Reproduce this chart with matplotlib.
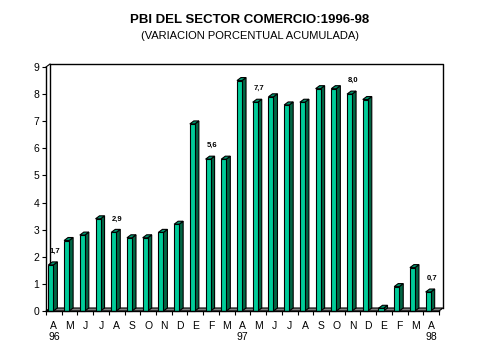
import matplotlib
matplotlib.use('Agg')
import matplotlib.pyplot as plt
from matplotlib.patches import Polygon

plt.rcParams['font.family'] = ['Liberation Sans', 'DejaVu Sans']

months = ['A', 'M', 'J', 'J', 'A', 'S', 'O', 'N', 'D', 'E', 'F', 'M',
          'A', 'M', 'J', 'J', 'A', 'S', 'O', 'N', 'D', 'E', 'F', 'M', 'A']
years = {0: '96', 12: '97', 24: '98'}
values = [1.7, 2.6, 2.8, 3.4, 2.9, 2.7, 2.7, 2.9, 3.2, 6.9, 5.6, 5.6,
          8.5, 7.7, 7.9, 7.6, 7.7, 8.2, 8.2, 8.0, 7.8, 0.1, 0.9, 1.6, 0.7]
labelled = {0: '1,7', 4: '2,9', 10: '5,6', 13: '7,7', 19: '8,0', 24: '0,7'}

W, H = 479, 359
fig = plt.figure(figsize=(W / 100, H / 100), dpi=100)
fig.patch.set_facecolor('white')

# front plane of the 3d box in pixels
left, right, bottom, top = 46, 439, 311, 67
ax = fig.add_axes([left / W, 1 - bottom / H, (right - left) / W, (bottom - top) / H])
n = len(values)
ax.set_xlim(-0.5, n - 0.5)
ax.set_ylim(0, 9)
for s in ax.spines.values():
    s.set_visible(False)
ax.set_facecolor('none')

px_x = (right - left) / n
px_y = (bottom - top) / 9.0
dx = 4 / px_x
dy = 3 / px_y

front_c = '#00cc99'
side_c = '#006644'
top_c = '#009970'

# floor
x0, x1 = -0.5, n - 0.5
ax.add_patch(Polygon([(x0, 0), (x1, 0), (x1 + dx, dy), (x0 + dx, dy)],
                     closed=True, fc='#808080', ec='black', lw=0.8, clip_on=False, zorder=1))
# back wall frame
ax.plot([x0 + dx, x0 + dx, x1 + dx, x1 + dx], [dy, 9 + dy, 9 + dy, dy],
        color='black', lw=1, clip_on=False, zorder=1)
ax.plot([x0, x0 + dx], [9, 9 + dy], color='black', lw=0.8, clip_on=False, zorder=1)

# bars
for i, v in enumerate(values):
    a, b = i - 0.35, i - 0.03
    ax.add_patch(Polygon([(b, 0), (b + dx, dy), (b + dx, v + dy), (b, v)],
                         closed=True, fc=side_c, ec='black', lw=0.8, clip_on=False, zorder=3))
    ax.add_patch(Polygon([(a, v), (b, v), (b + dx, v + dy), (a + dx, v + dy)],
                         closed=True, fc=top_c, ec='black', lw=0.8, clip_on=False, zorder=3))
    ax.add_patch(Polygon([(a, 0), (b, 0), (b, v), (a, v)],
                         closed=True, fc=front_c, ec='black', lw=0.8, clip_on=False, zorder=4))
    if i in labelled:
        ax.text(i + 0.05, v + 0.37, labelled[i], ha='center', va='bottom',
                fontsize=5.5, fontweight='bold', zorder=5)

# front axes
ax.plot([x0, x0], [0, 9], color='black', lw=1, clip_on=False, zorder=6)
ax.plot([x0, x1], [0, 0], color='black', lw=1, clip_on=False, zorder=6)

ax.set_yticks(range(10))
ax.tick_params(axis='y', length=3, width=0.8, labelsize=7.5, pad=2)
ax.set_xticks([i - 0.5 for i in range(n + 1)], minor=True)
ax.set_xticks(range(n))
ax.set_xticklabels(months)
ax.tick_params(axis='x', which='major', length=0, labelsize=7.5, pad=7)
ax.tick_params(axis='x', which='minor', length=3, width=0.8)
for i, y in years.items():
    ax.text(i, -0.78, y, ha='center', va='top', fontsize=7.5)

fig.text(250 / W, 1 - 20 / H, 'PBI DEL SECTOR COMERCIO:1996-98', ha='center', va='center',
         fontsize=9.5, fontweight='bold')
fig.text(250 / W, 1 - 36 / H, '(VARIACION PORCENTUAL ACUMULADA)', ha='center', va='center',
         fontsize=8)

fig.savefig('out.png', dpi=100)
